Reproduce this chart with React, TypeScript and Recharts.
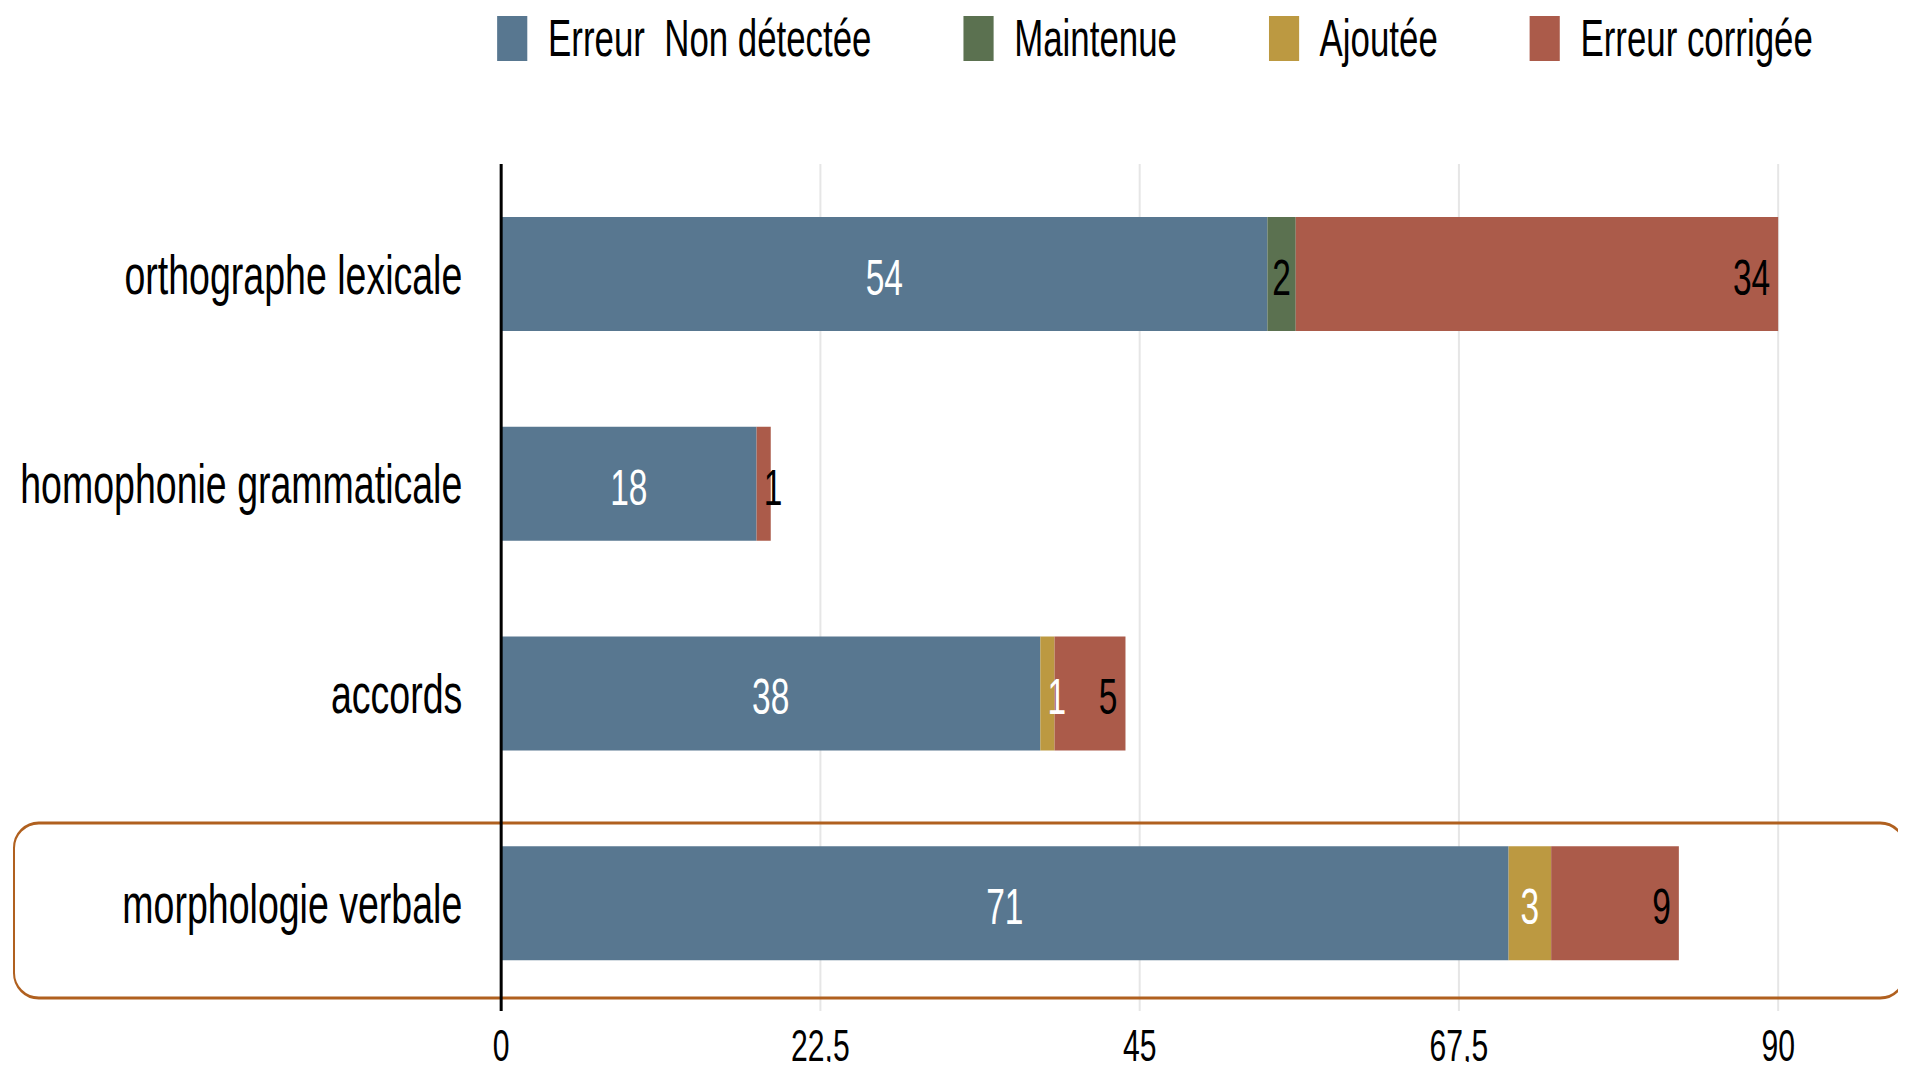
import React from "react";
import {
  Bar,
  BarChart,
  CartesianGrid,
  LabelList,
  Legend,
  XAxis,
  YAxis,
} from "recharts";

// the reference is horizontally squeezed, so the chart is drawn wide and scaled in x
const SQUEEZE = 0.67;
const OUT_W = 1906;
const OUT_H = 1070;
const CHART_W = Math.round(OUT_W / SQUEEZE);

const categories = [
  "orthographe lexicale",
  "homophonie grammaticale",
  "accords",
  "morphologie verbale",
];
const nonDetectee = [54, 18, 38, 71];
const maintenue = [2, 0, 0, 0];
const ajoutee = [0, 0, 1, 3];
const corrigee = [34, 1, 5, 9];
const xTicks = [0, 22.5, 45, 67.5, 90];

const series = [
  { key: "nonDetectee", name: "Erreur  Non détectée", color: "#587790", text: "#ffffff", pos: "center" },
  { key: "maintenue", name: "Maintenue", color: "#5b7150", text: "#000000", pos: "center" },
  { key: "ajoutee", name: "Ajoutée", color: "#bc9941", text: "#ffffff", pos: "center" },
  { key: "corrigee", name: "Erreur corrigée", color: "#ab5b4a", text: "#000000", pos: "right" },
];

const data = categories.map((cat, i) => ({
  cat,
  nonDetectee: nonDetectee[i],
  maintenue: maintenue[i],
  ajoutee: ajoutee[i],
  corrigee: corrigee[i],
}));

const FONT = "'Liberation Sans', Arial, sans-serif";
const LABEL_SIZE = 50;

function makeLabel(color: string, pos: string) {
  return (props: any) => {
    const { value } = props;
    if (!value) return null;
    const vb = props.viewBox || props;
    const x = Number(vb.x);
    const y = Number(vb.y);
    const w = Number(vb.width);
    const h = Number(vb.height);
    const txt = String(value);
    const tw = txt.length * 0.556 * LABEL_SIZE;
    let tx = x + w / 2;
    let anchor: "start" | "middle" | "end" = "middle";
    if (w < tw + 4) {
      // too narrow: label starts at the middle of the segment
      anchor = "start";
    } else if (pos === "right") {
      tx = x + w - 12;
      anchor = "end";
    }
    return (
      <text
        x={tx}
        y={y + h / 2}
        dy="0.42em"
        textAnchor={anchor}
        fill={color}
        fontSize={LABEL_SIZE}
        fontFamily={FONT}
      >
        {txt}
      </text>
    );
  };
}

function LegendBox() {
  return (
    <div
      style={{
        height: 164,
        boxSizing: "border-box",
        paddingLeft: 742,
        paddingTop: 16,
        display: "flex",
        alignItems: "flex-start",
        fontFamily: FONT,
        fontSize: 52,
        lineHeight: "45px",
        color: "#000",
      }}
    >
      {series.map((s) => (
        <div key={s.key} style={{ display: "flex", marginRight: 137 }}>
          <div style={{ width: 45, height: 45, background: s.color, marginRight: 31 }} />
          <span style={{ whiteSpace: "pre" }}>{s.name}</span>
        </div>
      ))}
    </div>
  );
}

export default function App() {
  return (
    <div style={{ width: OUT_W, height: OUT_H, overflow: "hidden", margin: -8, background: "#fff" }}>
      <div
        style={{
          width: CHART_W,
          height: OUT_H,
          transform: `scaleX(${SQUEEZE})`,
          transformOrigin: "0 0",
          fontFamily: FONT,
        }}
      >
        <BarChart
          width={CHART_W}
          height={OUT_H}
          data={data}
          layout="vertical"
          margin={{ top: 0, right: 191, bottom: 0, left: 0 }}
          barSize={114}
        >
          <CartesianGrid horizontal={false} stroke="#e6e6e6" strokeWidth={3} />
          <XAxis
            type="number"
            domain={[0, 90]}
            ticks={xTicks}
            axisLine={false}
            tickLine={false}
            height={59}
            tickMargin={12}
            tickFormatter={(v: number) => String(v).replace(".", ",")}
            tick={{ fontSize: 45, fill: "#000", fontFamily: FONT }}
          />
          <YAxis
            type="category"
            dataKey="cat"
            width={748}
            padding={{ top: 5, bottom: 3 }}
            axisLine={{ stroke: "#000", strokeWidth: 4.5 }}
            tickLine={false}
            tickMargin={52}
            tick={{ fontSize: 56, fill: "#000", fontFamily: FONT }}
          />
          <Legend verticalAlign="top" align="left" wrapperStyle={{ top: 0, left: 0 }} content={() => <LegendBox />} />
          {series.map((s) => (
            <Bar
              key={s.key}
              dataKey={s.key}
              name={s.name}
              stackId="a"
              fill={s.color}
              isAnimationActive={false}
            >
              <LabelList dataKey={s.key} content={makeLabel(s.text, s.pos)} />
            </Bar>
          ))}
          <rect
            x={14 / SQUEEZE}
            y={823}
            width={(1905 - 14) / SQUEEZE}
            height={175}
            rx={37}
            ry={25}
            fill="none"
            stroke="#b0601f"
            strokeWidth={3}
          />
        </BarChart>
      </div>
    </div>
  );
}
